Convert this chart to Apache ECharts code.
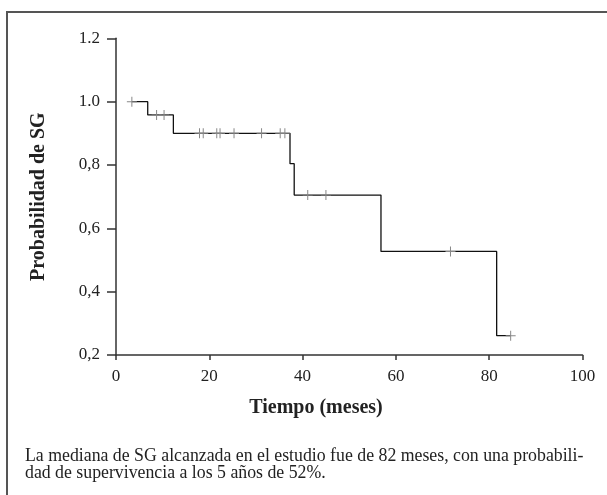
<!DOCTYPE html>
<html>
<head>
<meta charset="utf-8">
<script src="https://cdn.jsdelivr.net/npm/echarts@6/dist/echarts.min.js"></script>
<style>
html,body{margin:0;padding:0;background:#fff;}
#chart{width:607px;height:495px;}
</style>
</head>
<body>
<div id="chart"></div>
<script>
// Kaplan-Meier curve: time (months) and survival after each step
const curveTimes  = [3.4, 6.8, 12.3, 37.3, 38.2, 56.8, 81.6, 84.6];
const curveValues = [1.0, 0.958, 0.90, 0.804, 0.705, 0.527, 0.261, 0.261];
// Censored observations
const censorTimes  = [3.4, 8.7, 10.3, 17.9, 18.7, 21.6, 22.3, 25.3, 31.2, 35.2, 36.2, 41.1, 45.0, 71.7, 84.6];
const censorValues = [1.0, 0.958, 0.958, 0.90, 0.90, 0.90, 0.90, 0.90, 0.90, 0.90, 0.90, 0.705, 0.705, 0.527, 0.261];
// Axis ticks
const xTicks = [0, 20, 40, 60, 80, 100];
const yTickValues = [0.2, 0.4, 0.6, 0.8, 1.0, 1.2];
const yTickLabels = ['0,2', '0,4', '0,6', '0,8', '1.0', '1.2'];
const xTitle = 'Tiempo (meses)';
const yTitle = 'Probabilidad de SG';
const captionLines = [
  'La mediana de SG alcanzada en el estudio fue de 82 meses, con una probabili-',
  'dad de supervivencia a los 5 años de 52%.'
];

const FONT = '"Liberation Serif", "DejaVu Serif", serif';
const chart = echarts.init(document.getElementById('chart'), null, {renderer: 'canvas'});
const plus = 'path://M4.5,0h1v4.5h4.5v1h-4.5v4.5h-1v-4.5h-4.5v-1h4.5z';

chart.setOption({
  animation: false,
  backgroundColor: '#fff',
  grid: {left: 116, right: 24.5, top: 38.3, bottom: 140},
  xAxis: {
    type: 'value', min: xTicks[0], max: xTicks[xTicks.length - 1], interval: 20,
    axisLine: {lineStyle: {color: '#333', width: 1.5}},
    axisTick: {show: true, inside: false, length: 5, lineStyle: {color: '#333', width: 1.5}},
    axisLabel: {fontFamily: FONT, fontSize: 17, color: '#222', margin: 13},
    splitLine: {show: false}
  },
  yAxis: {
    type: 'value', min: yTickValues[0], max: yTickValues[yTickValues.length - 1], interval: 0.2,
    name: yTitle, nameLocation: 'middle', nameGap: 67, nameRotate: 90,
    nameTextStyle: {fontFamily: FONT, fontSize: 20, fontWeight: 'bold', color: '#222'},
    axisLine: {show: true, lineStyle: {color: '#333', width: 1.5}},
    axisTick: {show: true, length: 9, lineStyle: {color: '#333', width: 1.5}},
    axisLabel: {
      fontFamily: FONT, fontSize: 17, color: '#222', margin: 16,
      formatter: function (v) {
        const i = yTickValues.findIndex(t => Math.abs(t - v) < 1e-6);
        return i >= 0 ? yTickLabels[i] : '';
      }
    },
    splitLine: {show: false}
  },
  series: [
    {
      type: 'line', step: 'end', symbol: 'none',
      data: curveTimes.map((t, i) => [t, curveValues[i]]),
      lineStyle: {color: '#111', width: 1.3},
      z: 2
    },
    {
      type: 'scatter', symbol: plus, symbolSize: 10,
      data: censorTimes.map((t, i) => [t, censorValues[i]]),
      itemStyle: {color: '#888', opacity: 1},
      z: 3
    }
  ],
  graphic: [
    {type: 'rect', shape: {x: 7, y: 12, width: 700, height: 600},
     style: {fill: null, stroke: '#555', lineWidth: 2}, silent: true},
    {type: 'text', x: 316, y: 408,
     style: {text: xTitle, font: 'bold 20px ' + FONT, fill: '#222', textAlign: 'center', textVerticalAlign: 'middle'}},
    {type: 'text', left: 25, top: 447,
     style: {text: captionLines.join('\n'), font: '17.8px ' + FONT, fill: '#222', lineHeight: 17}}
  ]
});
</script>
</body>
</html>
